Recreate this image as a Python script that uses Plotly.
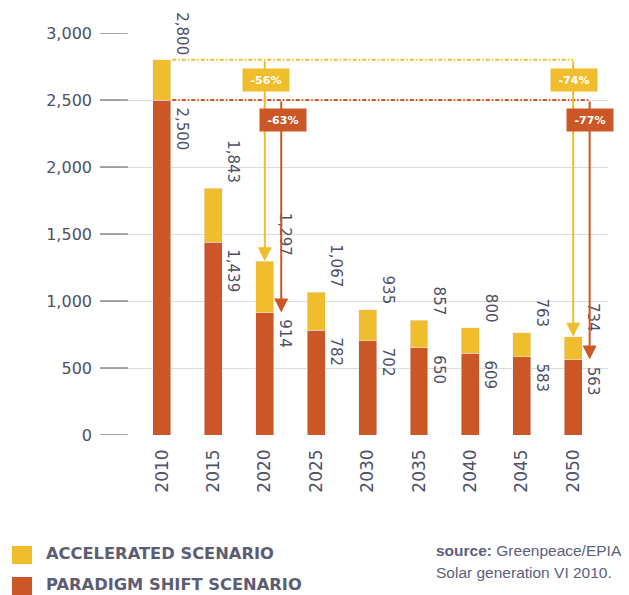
import plotly.graph_objects as go

years = ["2010", "2015", "2020", "2025", "2030", "2035", "2040", "2045", "2050"]
accelerated = [2800, 1843, 1297, 1067, 935, 857, 800, 763, 734]
paradigm = [2500, 1439, 914, 782, 702, 650, 609, 583, 563]
y_ticks = [0, 500, 1000, 1500, 2000, 2500, 3000]
cut_labels = ["-56%", "-63%", "-74%", "-77%"]

YELLOW = "#F0BD2C"
RED = "#CB5727"
TXT = "#4d5068"
FONT = "DejaVu Sans"

fig = go.Figure()
fig.add_trace(go.Bar(x=years, y=paradigm, marker_color=RED, width=0.35,
                     name="PARADIGM SHIFT SCENARIO", showlegend=False))
fig.add_trace(go.Bar(x=years, y=[a - p for a, p in zip(accelerated, paradigm)],
                     marker_color=YELLOW, width=0.35,
                     name="ACCELERATED SCENARIO", showlegend=False))

ann = []
shapes = []

# value labels next to each bar
for i, (a, p) in enumerate(zip(accelerated, paradigm)):
    ann.append(dict(x=i + 0.39, y=a, text=f"{a:,}", textangle=90, showarrow=False,
                    xanchor="center", yanchor="bottom", yshift=3,
                    font=dict(family=FONT, size=15, color=TXT)))
    ann.append(dict(x=i + 0.39, y=p, text=f"{p:,}", textangle=90, showarrow=False,
                    xanchor="center", yanchor="top", yshift=-5,
                    font=dict(family=FONT, size=15, color=TXT)))

# dotted reference lines from the 2010 values
dot = "4px,2px,1.5px,2px"
shapes.append(dict(type="line", xref="x", yref="y", x0=0.2, x1=8.0,
                   y0=accelerated[0], y1=accelerated[0],
                   line=dict(color=YELLOW, width=2, dash=dot)))
shapes.append(dict(type="line", xref="x", yref="y", x0=0.2, x1=8.32,
                   y0=paradigm[0], y1=paradigm[0],
                   line=dict(color=RED, width=2, dash=dot)))

# arrows down to 2020 and 2050
for idx in (2, 8):
    ann.append(dict(x=idx, y=accelerated[idx], ax=idx, ay=accelerated[0],
                    xref="x", yref="y", axref="x", ayref="y", text="",
                    showarrow=True, arrowhead=2, arrowsize=1.4, arrowwidth=2,
                    arrowcolor=YELLOW, standoff=0, startstandoff=0))
    ann.append(dict(x=idx + 0.32, y=paradigm[idx], ax=idx + 0.32, ay=paradigm[0],
                    xref="x", yref="y", axref="x", ayref="y", text="",
                    showarrow=True, arrowhead=2, arrowsize=1.4, arrowwidth=2,
                    arrowcolor=RED, standoff=0, startstandoff=0))

# percentage boxes
box_pos = [(2.03, 2650, YELLOW), (2.35, 2350, RED), (8.02, 2650, YELLOW), (8.33, 2350, RED)]
for lab, (bx, by, col) in zip(cut_labels, box_pos):
    ann.append(dict(x=bx, y=by, text=f"<b>{lab}</b>", showarrow=False,
                    bgcolor=col, width=42, height=18, borderpad=2,
                    font=dict(family=FONT, size=11, color="white")))

# short dark segments at the start of each gridline
for t in y_ticks:
    shapes.append(dict(type="line", xref="paper", yref="y", x0=0, x1=0.055,
                       y0=t, y1=t, line=dict(color="#8a8a8a", width=1.5)))

# legend drawn by hand
def px_x(px):
    return (px - 100) / 508

def px_y(py):
    return (435 - py) / 402

legend_items = [("ACCELERATED SCENARIO", YELLOW, 555), ("PARADIGM SHIFT SCENARIO", RED, 586)]
for lab, col, cy in legend_items:
    shapes.append(dict(type="rect", xref="paper", yref="paper",
                       x0=px_x(12), x1=px_x(32), y0=px_y(cy - 9), y1=px_y(cy + 9),
                       fillcolor=col, line=dict(width=0)))
    ann.append(dict(xref="paper", yref="paper", x=px_x(44), y=px_y(cy - 2), text=f"<b>{lab}</b>",
                    showarrow=False, xanchor="left", yanchor="middle",
                    font=dict(family=FONT, size=16.3, color="#5c5d72")))

ann.append(dict(xref="paper", yref="paper", x=px_x(434), y=px_y(550),
                text="<b>source:</b> Greenpeace/EPIA", showarrow=False,
                xanchor="left", yanchor="middle",
                font=dict(family="Liberation Sans", size=15.5, color="#5c6080")))
ann.append(dict(xref="paper", yref="paper", x=px_x(434), y=px_y(572),
                text="Solar generation VI 2010.", showarrow=False,
                xanchor="left", yanchor="middle",
                font=dict(family="Liberation Sans", size=15.5, color="#5c6080")))

fig.update_layout(
    width=629, height=595,
    margin=dict(l=100, r=21, t=33, b=160),
    barmode="stack",
    paper_bgcolor="white", plot_bgcolor="white",
    annotations=ann, shapes=shapes,
    xaxis=dict(type="category", range=[-1.206, 8.677], tickangle=-90,
               showgrid=False, zeroline=False, showline=False,
               ticks="", ticklabelstandoff=10,
               tickfont=dict(family=FONT, size=17, color=TXT)),
    yaxis=dict(range=[0, 3000], tickvals=y_ticks, tickformat=",d",
               showgrid=True, gridcolor="#dcdcdc", gridwidth=1,
               zeroline=False, showline=False, ticks="",
               ticklabelstandoff=7,
               tickfont=dict(family=FONT, size=16, color=TXT)),
)

# page body margin would push the chart 8px off
fig.write_html("out.html", config={"displayModeBar": False},
               post_script="document.body.style.margin='0';")
